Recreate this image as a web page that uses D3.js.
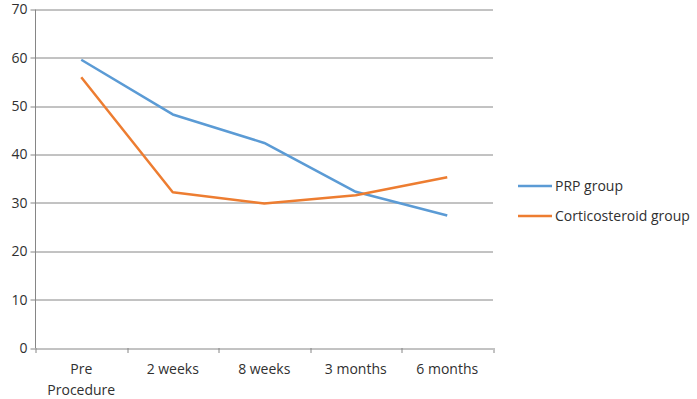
<!DOCTYPE html>
<html>
<head>
<meta charset="utf-8">
<script src="https://cdn.jsdelivr.net/npm/d3@7"></script>
<style>
  body { margin: 0; background: #fff; }
  text { font-family: "Open Sans", "Noto Sans", sans-serif; fill: #303030; }
</style>
</head>
<body>
<div id="chart"></div>
<script>
const categories = [["Pre", "Procedure"], ["2 weeks"], ["8 weeks"], ["3 months"], ["6 months"]];
const prpValues = [59.6, 48.3, 42.4, 32.3, 27.4];
const corticoValues = [56.0, 32.2, 29.9, 31.6, 35.3];
const yTicks = [0, 10, 20, 30, 40, 50, 60, 70];
const seriesNames = ["PRP group", "Corticosteroid group"];
const colors = ["#5b9bd5", "#ed7d31"];

var width = 697, height = 399;
var margin = {top: 9.5, left: 35.5};
var plotW = 493 - 35.5, plotH = 348 - 9.5;
var fontSize = "14px";

var svg = d3.select("#chart").append("svg")
    .attr("width", width)
    .attr("height", height);

var g = svg.append("g")
    .attr("transform", "translate(" + margin.left + "," + margin.top + ")");

var x = d3.scaleBand()
  .domain(d3.range(categories.length))
  .range([0, plotW]);

var y = d3.scaleLinear()
  .domain([0, 70])
  .range([plotH, 0]);

// gridlines
g.selectAll(".grid")
  .data(yTicks)
  .enter()
  .append("line")
    .attr("x1", 0).attr("x2", plotW)
    .attr("y1", d => Math.round(y(d)) + 0.5)
    .attr("y2", d => Math.round(y(d)) + 0.5)
    .style("stroke", "#868686")
    .style("stroke-width", 1);

// y axis line + tick marks
g.append("line")
  .attr("x1", 0).attr("x2", 0)
  .attr("y1", 0).attr("y2", plotH)
  .style("stroke", "#868686");
g.selectAll(".ytick")
  .data(yTicks)
  .enter()
  .append("line")
    .attr("x1", -5).attr("x2", 0)
    .attr("y1", d => Math.round(y(d)) + 0.5)
    .attr("y2", d => Math.round(y(d)) + 0.5)
    .style("stroke", "#868686");
g.selectAll(".ylabel")
  .data(yTicks)
  .enter()
  .append("text")
    .attr("x", -8)
    .attr("y", d => y(d))
    .attr("dy", "0.35em")
    .attr("text-anchor", "end")
    .style("font-size", fontSize)
    .text(d => d);

// x axis tick marks
var xEdges = d3.range(categories.length + 1).map(i => i * x.bandwidth());
g.selectAll(".xtick")
  .data(xEdges)
  .enter()
  .append("line")
    .attr("x1", d => Math.round(d) + 0.5).attr("x2", d => Math.round(d) + 0.5)
    .attr("y1", plotH).attr("y2", plotH + 5)
    .style("stroke", "#868686");

categories.forEach((lines, i) => {
  var t = g.append("text")
    .attr("text-anchor", "middle")
    .attr("x", x(i) + x.bandwidth() / 2)
    .attr("y", plotH + 26)
    .style("font-size", fontSize);
  lines.forEach((ln, j) => {
    t.append("tspan")
      .attr("x", x(i) + x.bandwidth() / 2)
      .attr("dy", j === 0 ? 0 : 21)
      .text(ln);
  });
});

// lines
var line = d3.line()
  .x((d, i) => x(i) + x.bandwidth() / 2)
  .y(d => y(d));

[prpValues, corticoValues].forEach((vals, k) => {
  g.append("path")
    .datum(vals)
    .attr("d", line)
    .style("fill", "none")
    .style("stroke", colors[k])
    .style("stroke-width", 2.5)
    .style("stroke-linejoin", "round");
});

// legend
var legend = svg.append("g");
seriesNames.forEach((name, k) => {
  var ly = 186 + k * 30;
  legend.append("line")
    .attr("x1", 518).attr("x2", 552)
    .attr("y1", ly).attr("y2", ly)
    .style("stroke", colors[k])
    .style("stroke-width", 2.5);
  legend.append("text")
    .attr("x", 555)
    .attr("y", ly)
    .attr("dy", "0.35em")
    .style("font-size", fontSize)
    .text(name);
});
</script>
</body>
</html>
